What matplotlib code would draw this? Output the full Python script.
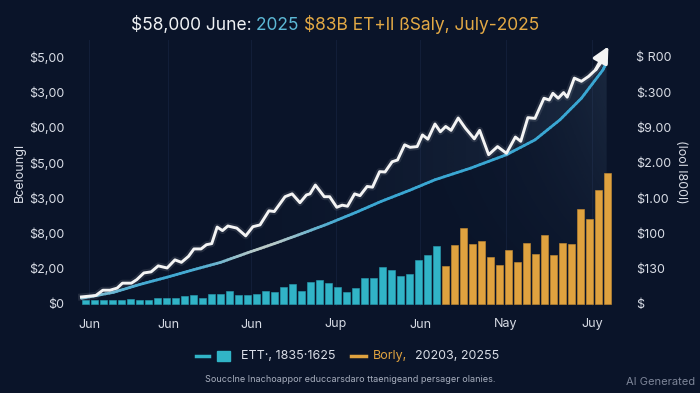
import matplotlib
matplotlib.use("Agg")
import matplotlib.pyplot as plt
import numpy as np
from matplotlib.collections import LineCollection
from matplotlib.lines import Line2D
from matplotlib.patches import Rectangle, Polygon
from matplotlib.colors import to_rgb

plt.rcParams["font.family"] = ["Inter", "DejaVu Sans"]

# --- data (y in axis tick units, x in bar-index units) ---
teal_vals = [0.10, 0.10, 0.10, 0.10, 0.10, 0.14, 0.10, 0.10, 0.16, 0.16,
             0.18, 0.24, 0.26, 0.16, 0.29, 0.27, 0.36, 0.25, 0.25, 0.29,
             0.38, 0.35, 0.48, 0.58, 0.38, 0.61, 0.67, 0.59, 0.49, 0.35,
             0.44, 0.73, 0.73, 1.06, 0.95, 0.78, 0.85, 1.26, 1.39, 1.65]
orange_vals = [1.09, 1.66, 2.15, 1.70, 1.78, 1.33, 1.10, 1.53, 1.19, 1.73,
               1.43, 1.96, 1.38, 1.73, 1.69, 2.70, 2.42, 3.23, 3.70]

price_x = [-0.45, 1.14, 1.93, 2.72, 3.52, 4.11, 5.10, 5.70, 6.49, 7.29,
           8.08, 9.07, 9.94, 10.66, 11.45, 12.05, 12.84, 13.44, 14.03, 14.63,
           15.22, 15.82, 16.81, 17.80, 18.60, 19.39, 20.38, 20.98, 22.17, 22.96,
           23.83, 24.55, 24.94, 25.54, 26.53, 27.13, 27.92, 28.52, 29.11, 29.90,
           30.50, 31.29, 31.89, 32.68, 33.28, 34.07, 34.67, 35.46, 36.06, 36.85,
           37.44, 38.04, 38.83, 39.43, 40.02, 40.62, 41.41, 42.21, 43.20, 43.79,
           44.79, 45.78, 46.77, 47.76, 48.36, 49.15, 49.94, 50.94, 51.53, 51.93,
           52.52, 53.12, 53.52, 54.31, 55.10, 55.90, 56.69, 57.30, 58.10]
price_y = [0.20, 0.24, 0.39, 0.39, 0.45, 0.59, 0.59, 0.69, 0.88, 0.91,
           1.08, 1.02, 1.25, 1.18, 1.35, 1.56, 1.56, 1.68, 1.71, 2.18,
           2.08, 2.21, 2.15, 1.93, 2.19, 2.24, 2.64, 2.62, 3.04, 3.12,
           2.87, 3.09, 3.12, 3.37, 3.04, 3.04, 2.74, 2.80, 2.77, 3.12,
           3.07, 3.33, 3.31, 3.75, 3.74, 4.03, 4.08, 4.51, 4.44, 4.46,
           4.79, 4.67, 5.10, 4.88, 5.03, 4.92, 5.27, 4.98, 4.68, 4.92,
           4.23, 4.46, 4.27, 4.73, 4.61, 5.28, 5.26, 5.83, 5.78, 5.97,
           5.83, 5.99, 5.86, 6.40, 6.31, 6.45, 6.64, 6.85, 7.30]

trend_x = [-0.45, 3.12, 6.0, 9.07, 12.0, 15.02, 18.0, 20.98, 24.0, 26.93,
           30.0, 32.88, 36.0, 38.83, 42.80, 46.77, 49.94, 52.72, 55.10, 57.48,
           57.90]
trend_y = [0.16, 0.33, 0.55, 0.76, 0.97, 1.18, 1.45, 1.71, 1.99, 2.27,
           2.59, 2.91, 3.22, 3.52, 3.85, 4.23, 4.65, 5.22, 5.83, 6.63,
           6.85]

left_labels = ["$0", "$2,00", "$8,00", "$3,00", "$5,00", "$0,00", "$3,00", "$5,00"]
right_labels = ["$", "$130", "$100", "$1.00", "$2.00", "$9.00", "$:300", "$ R00"]
month_pos = [0.4, 9.2, 18.4, 27.8, 37.2, 46.7, 56.3]
month_labels = ["Jun", "Jun", "Jun", "Jup", "Jun", "Nay", "Juy"]

BG = "#0a1429"
TEAL = "#31b4c7"
ORANGE = "#dfa23f"
TXT = "#d9dde6"

XL = (-0.83, 58.83)
YL = (-0.057, 7.48)

fig = plt.figure(figsize=(7, 3.93), dpi=100, facecolor=BG)
ax = fig.add_axes([78 / 700, 87 / 393, 537 / 700, 266 / 393])
ax.set_facecolor(BG)
ax.set_xlim(*XL)
ax.set_ylim(*YL)

for p in month_pos:
    ax.axvline(p, color="#121e38", lw=0.8, zorder=0)

# bars
n_t = len(teal_vals)
ax.bar(np.arange(n_t), teal_vals, width=0.8, color=TEAL, edgecolor="#2a9fb2",
       lw=0.4, zorder=2)
ax.bar(np.arange(n_t, n_t + len(orange_vals)), orange_vals, width=0.8,
       color=ORANGE, edgecolor="#c98e33", lw=0.4, zorder=2)

# soft shading: between the lines, and under the trend curve on the right
gx = np.linspace(0, 1, 300)[None, :]
gy = np.linspace(0, 1, 200)[:, None]
shade = np.zeros((200, 300, 4))
shade[..., :3] = to_rgb("#5f7d9c")

between = Polygon(np.column_stack([price_x + trend_x[::-1], price_y + trend_y[::-1]]),
                  closed=True, facecolor="none", edgecolor="none")
ax.add_patch(between)
s1 = shade.copy()
s1[..., 3] = 0.22 * gx ** 2.5 + 0 * gy
im1 = ax.imshow(s1, extent=[*XL, *YL], aspect="auto", origin="lower", zorder=1)
im1.set_clip_path(between)

under = Polygon(np.column_stack([trend_x + [trend_x[-1], trend_x[0]],
                                 trend_y + [0, 0]]),
                closed=True, facecolor="none", edgecolor="none")
ax.add_patch(under)
s2 = shade.copy()
s2[..., 3] = 0.22 * gx ** 6 * gy ** 0.8
im2 = ax.imshow(s2, extent=[*XL, *YL], aspect="auto", origin="lower", zorder=1)
im2.set_clip_path(under)

# trend curve with a pale section in the middle
tx, ty = [], []
for i in range(len(trend_x) - 1):
    tx.extend(np.linspace(trend_x[i], trend_x[i + 1], 8, endpoint=False))
    ty.extend(np.linspace(trend_y[i], trend_y[i + 1], 8, endpoint=False))
tx.append(trend_x[-1]); ty.append(trend_y[-1])
tx, ty = np.array(tx), np.array(ty)
segs = np.stack([np.column_stack([tx[:-1], ty[:-1]]), np.column_stack([tx[1:], ty[1:]])], axis=1)
mid = (tx[:-1] + tx[1:]) / 2
w = np.exp(-((mid - 20) / 5.5) ** 2) * 0.8 + np.exp(-((mid + 1) / 6) ** 2) * 0.4
c1, c2 = np.array(to_rgb("#3aa7d3")), np.array(to_rgb("#d9d2c4"))
cols = c1[None, :] * (1 - w[:, None]) + c2[None, :] * w[:, None]
ax.add_collection(LineCollection(segs, colors=cols, lw=2.0, zorder=3,
                                 capstyle="round"))

# price line + arrow head
ax.plot(price_x[:-1], price_y[:-1], color="white", lw=5, alpha=0.10, zorder=4)
ax.plot(price_x[:-1], price_y[:-1], color="#f4f4f4", lw=2.1, zorder=5,
        solid_joinstyle="round")
ax.annotate("", xy=(price_x[-1], price_y[-1]), xytext=(price_x[-3], price_y[-3]),
            arrowprops=dict(arrowstyle="-|>", color="#f4f4f4", lw=2.4,
                            mutation_scale=24, shrinkA=0, shrinkB=0), zorder=6)

for s in ax.spines.values():
    s.set_visible(False)
ax.set_yticks(range(8))
ax.set_yticklabels(left_labels, color=TXT, fontsize=9)
ax.set_xticks(month_pos)
ax.set_xticklabels(month_labels, color=TXT, fontsize=9)
ax.tick_params(length=0, pad=9)
ax.tick_params(axis="y", pad=10)

ax2 = ax.twinx()
ax2.set_ylim(ax.get_ylim())
for s in ax2.spines.values():
    s.set_visible(False)
ax2.set_yticks(range(8))
ax2.set_yticklabels(right_labels, color=TXT, fontsize=9)
ax2.tick_params(length=0, pad=15)

fig.text(20 / 700, 1 - 172 / 393, "Bcelounɡl", rotation=90, color=TXT,
         fontsize=9, ha="center", va="center")
fig.text(681 / 700, 1 - 172 / 393, "(lool l800l)", rotation=270, color=TXT,
         fontsize=9, ha="center", va="center")

# title in coloured pieces
fig.canvas.draw()
r = fig.canvas.get_renderer()
parts = [("$58,000 June: ", "#f0f2f5"), ("2025 ", "#5cb9d6"),
         ("$83B ET+ll ßSaly, July-2025", "#e3a945")]
x0 = 131
for s, c in parts:
    t = fig.text(x0 / 700, 1 - 25 / 393, s, color=c, fontsize=12.5,
                 ha="left", va="center")
    x0 += t.get_window_extent(r).width

# legend
ly = 1 - 356 / 393
fig.add_artist(Line2D([196 / 700, 209 / 700], [ly, ly], color=TEAL, lw=2.5))
fig.add_artist(Rectangle((217 / 700, ly - 5 / 393), 13 / 700, 10 / 393,
                         color=TEAL, transform=fig.transFigure))
fig.text(241 / 700, ly, "ETT·, 1835·1625", color=TXT, fontsize=9, va="center")
fig.add_artist(Line2D([351 / 700, 366 / 700], [ly, ly], color=ORANGE, lw=2.5))
fig.text(373 / 700, ly, "Borly,", color=ORANGE, fontsize=9, va="center")
fig.text(415 / 700, ly, "20203, 20255", color=TXT, fontsize=9, va="center")

fig.text(350 / 700, 1 - 379 / 393,
         "Soucclne Inachoappor educcarsdaro ttaenigeand persager olanies.",
         color="#a9b0bf", fontsize=6.5, ha="center", va="center")
fig.text(695 / 700, 1 - 382 / 393, "AI Generated", color="#7d8598",
         fontsize=8, ha="right", va="center")

fig.savefig("out.png", dpi=100, facecolor=BG)
